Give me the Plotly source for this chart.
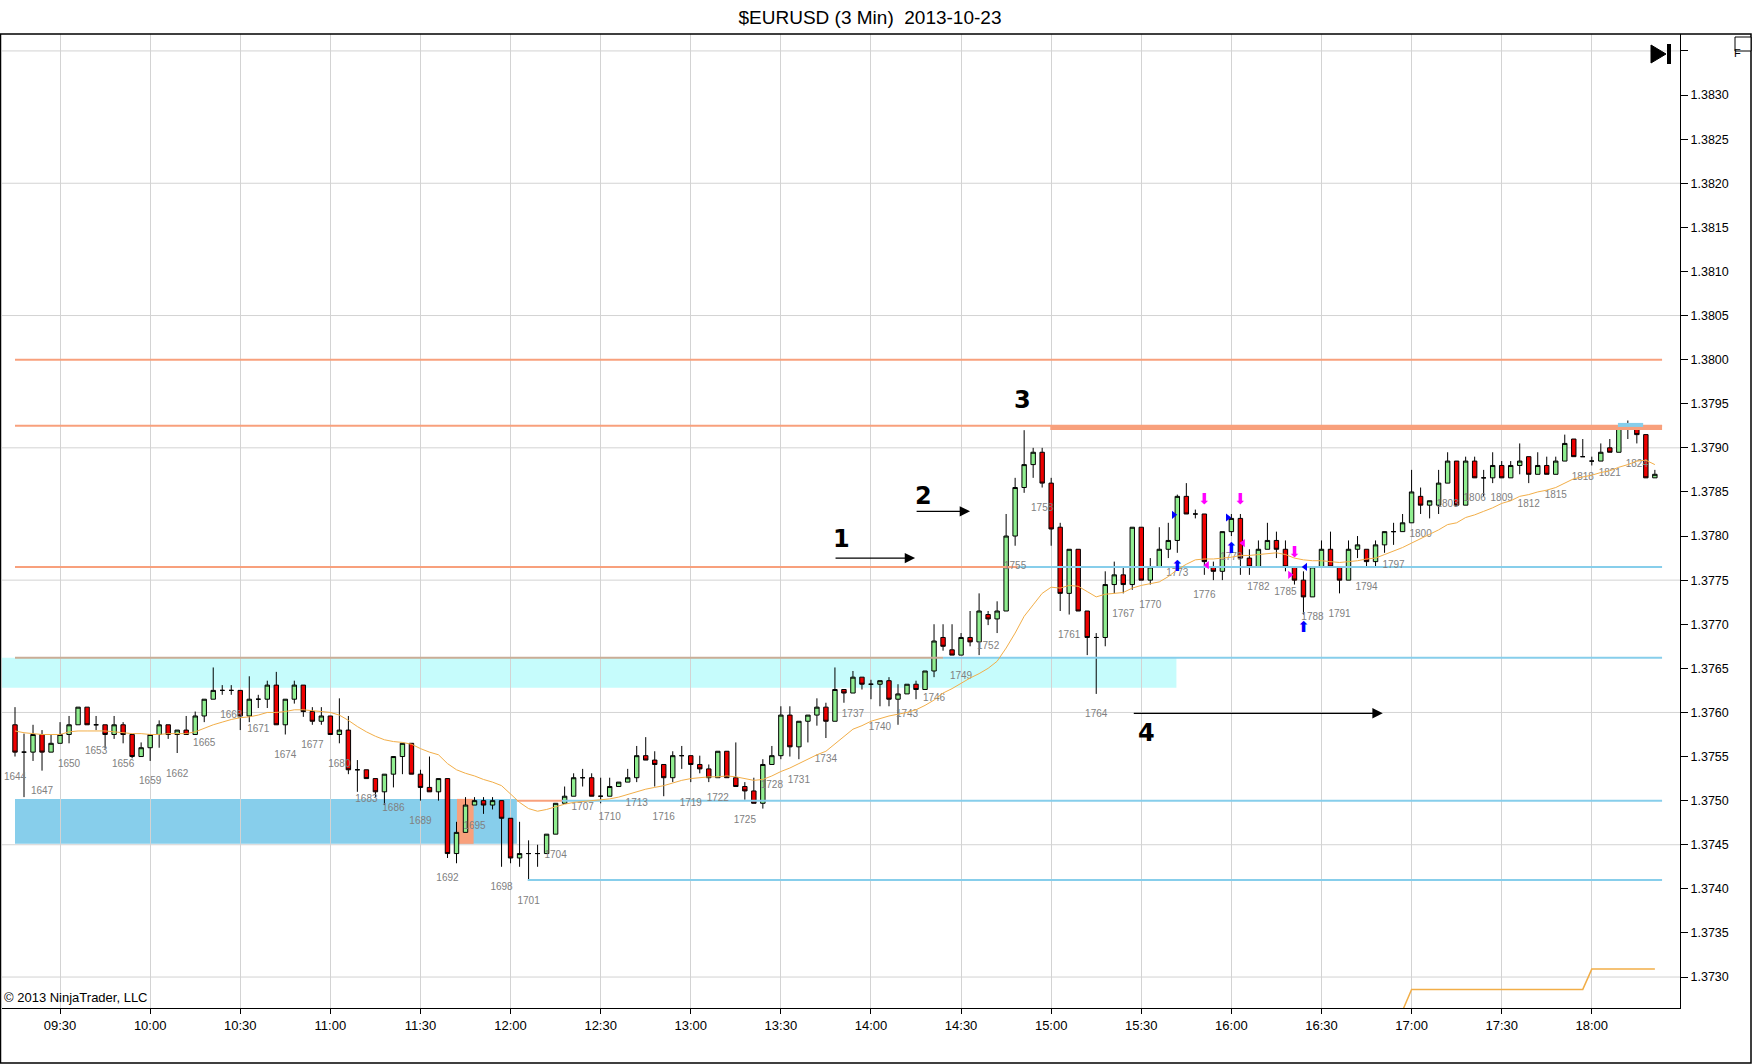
import plotly.graph_objects as go

# $EURUSD 3 min bars, 2013-10-23 (bar 1644 .. 1826)
first_bar = 1644

opens = [
    1.37586, 1.37555, 1.37555, 1.37575, 1.37555, 1.37565, 1.37575, 1.37586, 1.37606, 1.37586,
    1.37586, 1.37575, 1.37586, 1.37575, 1.37550, 1.37560, 1.37575, 1.37586, 1.37575, 1.37580,
    1.37575, 1.37596, 1.37615, 1.37625, 1.37625, 1.37625, 1.37596, 1.37615, 1.37615, 1.37631,
    1.37586, 1.37615, 1.37631, 1.37601, 1.37590, 1.37596, 1.37575, 1.37580, 1.37535, 1.37535,
    1.37525, 1.37510, 1.37530, 1.37550, 1.37565, 1.37530, 1.37515, 1.37510, 1.37525, 1.37440,
    1.37464, 1.37495, 1.37500, 1.37495, 1.37500, 1.37480, 1.37435, 1.37440, 1.37440, 1.37440,
    1.37462, 1.37497, 1.37505, 1.37526, 1.37526, 1.37505, 1.37505, 1.37516, 1.37521, 1.37526,
    1.37551, 1.37546, 1.37541, 1.37526, 1.37551, 1.37551, 1.37541, 1.37536, 1.37526, 1.37556,
    1.37526, 1.37516, 1.37511, 1.37497, 1.37541, 1.37551, 1.37597, 1.37561, 1.37590, 1.37597,
    1.37606, 1.37590, 1.37626, 1.37622, 1.37640, 1.37632, 1.37632, 1.37636, 1.37615, 1.37621,
    1.37632, 1.37626, 1.37647, 1.37685, 1.37671, 1.37665, 1.37685, 1.37680, 1.37711, 1.37706,
    1.37715, 1.37800, 1.37855, 1.37881, 1.37895, 1.37860, 1.37810, 1.37735, 1.37785, 1.37715,
    1.37685, 1.37685, 1.37745, 1.37756, 1.37745, 1.37810, 1.37750, 1.37765, 1.37785, 1.37795,
    1.37845, 1.37825, 1.37825, 1.37765, 1.37760, 1.37805, 1.37820, 1.37775, 1.37765, 1.37785,
    1.37795, 1.37785, 1.37765, 1.37750, 1.37731, 1.37765, 1.37785, 1.37765, 1.37750, 1.37785,
    1.37785, 1.37771, 1.37790, 1.37805, 1.37805, 1.37815, 1.37845, 1.37835, 1.37835, 1.37860,
    1.37885, 1.37835, 1.37885, 1.37866, 1.37866, 1.37880, 1.37866, 1.37880, 1.37890, 1.37870,
    1.37880, 1.37870, 1.37885, 1.37910, 1.37890, 1.37885, 1.37885, 1.37900, 1.37895, 1.37924,
    1.37924, 1.37915, 1.37866,
]
highs = [
    1.37606, 1.37576, 1.37586, 1.37580, 1.37575, 1.37589, 1.37596, 1.37606, 1.37606, 1.37596,
    1.37586, 1.37596, 1.37589, 1.37575, 1.37566, 1.37575, 1.37591, 1.37586, 1.37580, 1.37596,
    1.37601, 1.37615, 1.37651, 1.37631, 1.37631, 1.37625, 1.37641, 1.37620, 1.37636, 1.37646,
    1.37615, 1.37636, 1.37631, 1.37606, 1.37606, 1.37596, 1.37616, 1.37596, 1.37546, 1.37535,
    1.37525, 1.37530, 1.37550, 1.37565, 1.37565, 1.37535, 1.37550, 1.37525, 1.37525, 1.37476,
    1.37504, 1.37504, 1.37504, 1.37504, 1.37500, 1.37480, 1.37476, 1.37455, 1.37450, 1.37462,
    1.37497, 1.37516, 1.37531, 1.37536, 1.37531, 1.37526, 1.37526, 1.37521, 1.37536, 1.37562,
    1.37572, 1.37556, 1.37541, 1.37556, 1.37562, 1.37551, 1.37551, 1.37541, 1.37556, 1.37556,
    1.37566, 1.37521, 1.37526, 1.37547, 1.37562, 1.37607, 1.37607, 1.37590, 1.37597, 1.37616,
    1.37611, 1.37651, 1.37626, 1.37647, 1.37640, 1.37637, 1.37636, 1.37640, 1.37632, 1.37632,
    1.37636, 1.37647, 1.37700, 1.37700, 1.37700, 1.37690, 1.37715, 1.37735, 1.37715, 1.37726,
    1.37825, 1.37866, 1.37920, 1.37900, 1.37900, 1.37866, 1.37815, 1.37785, 1.37785, 1.37715,
    1.37690, 1.37760, 1.37771, 1.37765, 1.37810, 1.37810, 1.37775, 1.37810, 1.37815, 1.37847,
    1.37860, 1.37830, 1.37825, 1.37771, 1.37805, 1.37825, 1.37825, 1.37785, 1.37795, 1.37815,
    1.37805, 1.37795, 1.37765, 1.37760, 1.37765, 1.37795, 1.37805, 1.37765, 1.37795, 1.37800,
    1.37785, 1.37795, 1.37805, 1.37815, 1.37825, 1.37875, 1.37855, 1.37840, 1.37875, 1.37895,
    1.37885, 1.37890, 1.37890, 1.37875, 1.37895, 1.37885, 1.37885, 1.37905, 1.37890, 1.37895,
    1.37890, 1.37890, 1.37915, 1.37910, 1.37910, 1.37890, 1.37905, 1.37910, 1.37924, 1.37931,
    1.37924, 1.37915, 1.37875,
]
lows = [
    1.37550, 1.37504, 1.37545, 1.37534, 1.37555, 1.37565, 1.37565, 1.37586, 1.37586, 1.37580,
    1.37559, 1.37570, 1.37565, 1.37548, 1.37550, 1.37545, 1.37560, 1.37570, 1.37554, 1.37575,
    1.37575, 1.37589, 1.37615, 1.37620, 1.37620, 1.37580, 1.37589, 1.37605, 1.37605, 1.37586,
    1.37575, 1.37610, 1.37595, 1.37586, 1.37586, 1.37575, 1.37565, 1.37530, 1.37510, 1.37525,
    1.37504, 1.37495, 1.37515, 1.37530, 1.37530, 1.37500, 1.37510, 1.37500, 1.37435, 1.37429,
    1.37464, 1.37495, 1.37485, 1.37490, 1.37425, 1.37429, 1.37425, 1.37410, 1.37425, 1.37440,
    1.37462, 1.37497, 1.37505, 1.37516, 1.37505, 1.37497, 1.37505, 1.37516, 1.37521, 1.37521,
    1.37546, 1.37516, 1.37505, 1.37521, 1.37536, 1.37521, 1.37531, 1.37521, 1.37526, 1.37526,
    1.37516, 1.37501, 1.37497, 1.37491, 1.37541, 1.37547, 1.37550, 1.37547, 1.37566, 1.37585,
    1.37571, 1.37590, 1.37611, 1.37622, 1.37626, 1.37615, 1.37607, 1.37607, 1.37586, 1.37621,
    1.37615, 1.37626, 1.37640, 1.37670, 1.37665, 1.37665, 1.37675, 1.37665, 1.37699, 1.37690,
    1.37715, 1.37789, 1.37849, 1.37866, 1.37855, 1.37789, 1.37715, 1.37711, 1.37715, 1.37665,
    1.37621, 1.37675, 1.37735, 1.37735, 1.37739, 1.37750, 1.37745, 1.37765, 1.37775, 1.37781,
    1.37825, 1.37820, 1.37756, 1.37750, 1.37750, 1.37800, 1.37756, 1.37756, 1.37765, 1.37785,
    1.37775, 1.37760, 1.37745, 1.37711, 1.37731, 1.37765, 1.37765, 1.37735, 1.37750, 1.37775,
    1.37765, 1.37765, 1.37781, 1.37790, 1.37805, 1.37815, 1.37825, 1.37820, 1.37825, 1.37860,
    1.37835, 1.37835, 1.37866, 1.37845, 1.37860, 1.37866, 1.37866, 1.37870, 1.37860, 1.37870,
    1.37870, 1.37870, 1.37885, 1.37890, 1.37890, 1.37880, 1.37885, 1.37895, 1.37895, 1.37910,
    1.37905, 1.37866, 1.37866,
]
closes = [
    1.37555, 1.37555, 1.37575, 1.37555, 1.37565, 1.37575, 1.37586, 1.37606, 1.37586, 1.37586,
    1.37575, 1.37586, 1.37575, 1.37550, 1.37560, 1.37575, 1.37586, 1.37575, 1.37580, 1.37575,
    1.37596, 1.37615, 1.37625, 1.37625, 1.37625, 1.37596, 1.37615, 1.37615, 1.37631, 1.37586,
    1.37615, 1.37631, 1.37601, 1.37590, 1.37596, 1.37575, 1.37580, 1.37535, 1.37535, 1.37525,
    1.37510, 1.37530, 1.37550, 1.37565, 1.37530, 1.37515, 1.37510, 1.37525, 1.37440, 1.37464,
    1.37495, 1.37500, 1.37495, 1.37500, 1.37480, 1.37435, 1.37440, 1.37440, 1.37440, 1.37462,
    1.37497, 1.37505, 1.37526, 1.37526, 1.37505, 1.37505, 1.37516, 1.37521, 1.37526, 1.37551,
    1.37546, 1.37541, 1.37526, 1.37551, 1.37551, 1.37541, 1.37536, 1.37526, 1.37556, 1.37526,
    1.37516, 1.37511, 1.37497, 1.37541, 1.37551, 1.37597, 1.37561, 1.37590, 1.37597, 1.37606,
    1.37590, 1.37626, 1.37622, 1.37640, 1.37632, 1.37632, 1.37636, 1.37615, 1.37621, 1.37632,
    1.37626, 1.37647, 1.37681, 1.37675, 1.37665, 1.37685, 1.37680, 1.37715, 1.37706, 1.37715,
    1.37800, 1.37855, 1.37881, 1.37895, 1.37860, 1.37808, 1.37735, 1.37785, 1.37715, 1.37685,
    1.37685, 1.37745, 1.37756, 1.37745, 1.37810, 1.37750, 1.37765, 1.37785, 1.37795, 1.37845,
    1.37825, 1.37825, 1.37771, 1.37760, 1.37805, 1.37820, 1.37775, 1.37765, 1.37785, 1.37795,
    1.37785, 1.37765, 1.37750, 1.37731, 1.37765, 1.37785, 1.37765, 1.37750, 1.37785, 1.37790,
    1.37771, 1.37790, 1.37805, 1.37805, 1.37815, 1.37850, 1.37835, 1.37840, 1.37860, 1.37885,
    1.37835, 1.37885, 1.37866, 1.37866, 1.37880, 1.37866, 1.37880, 1.37885, 1.37870, 1.37880,
    1.37870, 1.37885, 1.37905, 1.37890, 1.37890, 1.37885, 1.37895, 1.37895, 1.37924, 1.37924,
    1.37915, 1.37866, 1.37870,
]
# moving average (orange line), read per bar
sma = [
    1.37579, 1.37577, 1.37576, 1.37575, 1.37575, 1.37575, 1.37578, 1.37579, 1.37579, 1.37579,
    1.37579, 1.37578, 1.37577, 1.37576, 1.37576, 1.37575, 1.37575, 1.37576, 1.37576, 1.37576,
    1.37578, 1.37582, 1.37586, 1.37589, 1.37592, 1.37594, 1.37595, 1.37597, 1.37600, 1.37600,
    1.37601, 1.37603, 1.37603, 1.37602, 1.37601, 1.37600, 1.37597, 1.37591, 1.37584, 1.37578,
    1.37573, 1.37569, 1.37567, 1.37566, 1.37564, 1.37559, 1.37555, 1.37552, 1.37542, 1.37535,
    1.37531, 1.37528, 1.37524, 1.37521, 1.37517, 1.37508, 1.37498, 1.37491, 1.37488, 1.37490,
    1.37493, 1.37496, 1.37498, 1.37499, 1.37500, 1.37501, 1.37502, 1.37504, 1.37507, 1.37510,
    1.37513, 1.37515, 1.37517, 1.37520, 1.37523, 1.37525, 1.37526, 1.37527, 1.37527, 1.37528,
    1.37527, 1.37525, 1.37523, 1.37524, 1.37528, 1.37533, 1.37537, 1.37542, 1.37547, 1.37552,
    1.37556, 1.37564, 1.37573, 1.37581, 1.37585, 1.37590, 1.37593, 1.37596, 1.37598, 1.37600,
    1.37603, 1.37608, 1.37614, 1.37622, 1.37627, 1.37633, 1.37639, 1.37644, 1.37650, 1.37658,
    1.37673, 1.37690, 1.37709, 1.37722, 1.37735, 1.37742, 1.37741, 1.37744, 1.37743, 1.37737,
    1.37731, 1.37734, 1.37735, 1.37736, 1.37741, 1.37744, 1.37746, 1.37748, 1.37754, 1.37762,
    1.37768, 1.37773, 1.37774, 1.37774, 1.37775, 1.37776, 1.37778, 1.37778, 1.37779, 1.37780,
    1.37781, 1.37779, 1.37775, 1.37773, 1.37772, 1.37772, 1.37771, 1.37770, 1.37771, 1.37772,
    1.37774, 1.37775, 1.37779, 1.37783, 1.37787, 1.37792, 1.37797, 1.37802, 1.37807, 1.37813,
    1.37815, 1.37821, 1.37824, 1.37828, 1.37832, 1.37837, 1.37840, 1.37845, 1.37847, 1.37850,
    1.37852, 1.37855, 1.37860, 1.37865, 1.37867, 1.37869, 1.37872, 1.37874, 1.37878, 1.37881,
    1.37885, 1.37886, 1.37881,
]

# second orange line near the bottom (comes in from below the scale)
low_line_bars = [153, 154, 155, 174, 175, 182]
low_line_vals = [1.37220, 1.37262, 1.37286, 1.37286, 1.37309, 1.37309]

# time axis
time_tick_bars = [5, 15, 25, 35, 45, 55, 65, 75, 85, 95, 105, 115, 125, 135, 145, 155, 165, 175]
time_tick_labels = ["09:30", "10:00", "10:30", "11:00", "11:30", "12:00", "12:30", "13:00", "13:30",
                    "14:00", "14:30", "15:00", "15:30", "16:00", "16:30", "17:00", "17:30", "18:00"]

price_ticks = [1.3730, 1.3735, 1.3740, 1.3745, 1.3750, 1.3755, 1.3760, 1.3765, 1.3770, 1.3775,
               1.3780, 1.3785, 1.3790, 1.3795, 1.3800, 1.3805, 1.3810, 1.3815, 1.3820, 1.3825,
               1.3830, 1.3835]
price_tick_labels = ["1.3730", "1.3735", "1.3740", "1.3745", "1.3750", "1.3755", "1.3760", "1.3765",
                     "1.3770", "1.3775", "1.3780", "1.3785", "1.3790", "1.3795", "1.3800", "1.3805",
                     "1.3810", "1.3815", "1.3820", "1.3825", "1.3830", ""]
price_grid = [1.3730, 1.3745, 1.3760, 1.3775, 1.3790, 1.3805, 1.3820, 1.3835]

# horizontal levels drawn on the chart
level_prices = [1.38000, 1.37925, 1.37923, 1.37765, 1.37765, 1.37662, 1.37662, 1.37500, 1.37500, 1.37410, 1.37926]
level_start = [0, 0, 114.9, 0, 111.3, 0, 103.0, 55.7, 60.7, 56.9, 177.9]
level_end = [182.8, 182.8, 182.8, 111.3, 182.8, 103.0, 182.8, 60.7, 182.8, 182.8, 180.7]
level_kind = ["old", "old", "old_thick", "old", "new", "old_tan", "new", "old", "new", "new", "new_thick"]

# zones
zone_low = [1.37628, 1.37451, 1.37451]
zone_high = [1.37662, 1.37502, 1.37502]
zone_start = [-1.6, 0, 49.05]
zone_end = [128.9, 55.7, 50.9]
zone_kind = ["cyan", "blue", "salmon"]

# strategy signal arrows
buy_bars = [129, 135, 143]
buy_prices = [1.37765, 1.37785, 1.37695]
sell_bars = [132, 136, 142]
sell_prices = [1.37841, 1.37841, 1.37781]
entry_bars = [128.6, 134.6, 143.2, 132.3, 136.3, 141.5]
entry_prices = [1.37824, 1.37821, 1.37765, 1.37767, 1.37792, 1.37756]
entry_kind = ["buy_r", "buy_r", "buy_l", "sell_l", "sell_l", "sell_r"]

# hand-drawn notes: label text, label position, arrow tail/head
note_text = ["1", "2", "3", "4"]
note_bar = [91.7, 100.8, 111.8, 125.6]
note_price = [1.37797, 1.37845, 1.37954, 1.37577]
arrow_tail = [90.9, 99.9, 124.0]
arrow_head = [99.9, 106.0, 151.8]
arrow_price = [1.37775, 1.37828, 1.37599]

FONT = "Liberation Sans"
ORANGE = "#F8A07C"
SKY = "#87CEEB"
line_style = {
    "old": (ORANGE, 2), "old_thick": (ORANGE, 5), "old_tan": ("#C9AD96", 2),
    "new": (SKY, 2), "new_thick": (SKY, 4),
}
zone_color = {"cyan": "#C6FCFC", "blue": SKY, "salmon": ORANGE}

bars = list(range(len(opens)))
px_per_price = 88200.0  # vertical scale of the chart
label_drop = 21 / px_per_price

fig = go.Figure()

for lvl, x0, x1, kind in zip(level_prices, level_start, level_end, level_kind):
    col, w = line_style[kind]
    fig.add_trace(go.Scatter(x=[x0, x1], y=[lvl, lvl], mode="lines",
                             line=dict(color=col, width=w), hoverinfo="skip"))

lab_bars = [b for b in bars if b % 3 == 0]
fig.add_trace(go.Scatter(
    x=lab_bars, y=[lows[b] - label_drop for b in lab_bars],
    text=[str(first_bar + b) for b in lab_bars], mode="text",
    textfont=dict(family=FONT, size=10, color="#808080"), hoverinfo="skip"))

fig.add_trace(go.Candlestick(
    x=bars, open=opens, high=highs, low=lows, close=closes,
    increasing=dict(fillcolor="#90EE90", line=dict(color="black", width=1)),
    decreasing=dict(fillcolor="#EE0000", line=dict(color="black", width=1)),
    whiskerwidth=0, name="$EURUSD"))

fig.add_trace(go.Scatter(x=bars, y=sma, mode="lines",
                         line=dict(color="#F2AE48", width=1), hoverinfo="skip"))
fig.add_trace(go.Scatter(x=low_line_bars, y=low_line_vals, mode="lines",
                         line=dict(color="#F2AE48", width=1.5), hoverinfo="skip"))

fig.add_trace(go.Scatter(x=buy_bars, y=buy_prices, mode="text", text=["⬆"] * len(buy_bars),
                         textfont=dict(family="DejaVu Sans", size=15, color="#0000FF"), hoverinfo="skip"))
fig.add_trace(go.Scatter(x=sell_bars, y=sell_prices, mode="text", text=["⬇"] * len(sell_bars),
                         textfont=dict(family="DejaVu Sans", size=15, color="#FF00FF"), hoverinfo="skip"))
tri_sym = {"buy_r": "triangle-right", "buy_l": "triangle-left", "sell_l": "triangle-left", "sell_r": "triangle-right"}
tri_col = {"buy_r": "#0000FF", "buy_l": "#0000FF", "sell_l": "#FF00FF", "sell_r": "#FF00FF"}
fig.add_trace(go.Scatter(
    x=entry_bars, y=entry_prices, mode="markers",
    marker=dict(symbol=[tri_sym[k] for k in entry_kind], color=[tri_col[k] for k in entry_kind],
                size=7, line=dict(width=0)), hoverinfo="skip"))

shapes = []
for g in price_grid:
    shapes.append(dict(type="line", xref="paper", yref="y", x0=0, x1=1, y0=g, y1=g,
                       line=dict(color="#D3D3D3", width=1), layer="below"))
for lo, hi, x0, x1, kind in zip(zone_low, zone_high, zone_start, zone_end, zone_kind):
    shapes.append(dict(type="rect", xref="x", yref="y", x0=x0, x1=x1, y0=lo, y1=hi,
                       fillcolor=zone_color[kind], line=dict(width=0), layer="below"))


def px(xp, yp):
    # window pixel -> paper coords (plot area is x 2..1680, y 34..1008)
    return (xp - 2) / 1678.0, (1008 - yp) / 974.0


# outer frame
fx0, fy0 = px(0.5, 34)
fx1, fy1 = px(1751, 1063)
shapes.append(dict(type="rect", xref="paper", yref="paper", x0=fx0, x1=fx1, y0=fy1, y1=fy0,
                   line=dict(color="black", width=1.5)))
# "go to end" button
a = px(1651, 45); b = px(1651, 63); c = px(1666, 54)
shapes.append(dict(type="path", xref="paper", yref="paper",
                   path=f"M{a[0]},{a[1]} L{b[0]},{b[1]} L{c[0]},{c[1]} Z",
                   fillcolor="black", line=dict(color="black", width=1)))
r0 = px(1667, 44); r1 = px(1671, 64)
shapes.append(dict(type="rect", xref="paper", yref="paper", x0=r0[0], x1=r1[0], y0=r1[1], y1=r0[1],
                   fillcolor="black", line=dict(width=0)))
f0 = px(1735, 37); f1 = px(1751, 51)
shapes.append(dict(type="rect", xref="paper", yref="paper", x0=f0[0], x1=f1[0], y0=f1[1], y1=f0[1],
                   fillcolor="white", line=dict(color="black", width=1)))

annotations = []
fc = px(1743, 44.5)
annotations.append(dict(text="F", x=fc[0], y=fc[1], xref="paper", yref="paper", showarrow=False,
                        font=dict(family=FONT, size=11, color="black")))
annotations.append(dict(text="© 2013 NinjaTrader, LLC", x=0, y=0, xref="paper", yref="paper",
                        xanchor="left", yanchor="bottom", showarrow=False, yshift=1,
                        font=dict(family=FONT, size=13, color="black")))
for t, xb, yp in zip(note_text, note_bar, note_price):
    annotations.append(dict(text=f"<b>{t}</b>", x=xb, y=yp, xref="x", yref="y", showarrow=False,
                            font=dict(family="DejaVu Sans", size=24, color="black")))
for x0, x1, yp in zip(arrow_tail, arrow_head, arrow_price):
    annotations.append(dict(text="", x=x1, y=yp, ax=x0, ay=yp, xref="x", yref="y",
                            axref="x", ayref="y", showarrow=True, arrowhead=2,
                            arrowsize=1.6, arrowwidth=1.3, arrowcolor="black", standoff=0))

fig.update_layout(
    width=1752, height=1064, autosize=False,
    margin=dict(l=2, r=72, t=34, b=56),
    paper_bgcolor="white", plot_bgcolor="white",
    showlegend=False, hovermode="closest",
    boxgap=0.3,
    title=dict(text="$EURUSD (3 Min)\u00a0 2013-10-23", x=870 / 1752, xref="container",
               y=1 - 17 / 1064, yref="container", xanchor="center", yanchor="middle",
               font=dict(family=FONT, size=19, color="black")),
    xaxis=dict(range=[-1.443, 184.79], tickmode="array", tickvals=time_tick_bars,
               ticktext=time_tick_labels, showgrid=True, gridcolor="#D3D3D3", gridwidth=1,
               ticks="outside", ticklen=5, tickcolor="black", showline=True, linecolor="black",
               linewidth=1, zeroline=False, rangeslider=dict(visible=False),
               tickfont=dict(family=FONT, size=13, color="black")),
    yaxis=dict(range=[1.372649, 1.383692], side="right", tickmode="array", tickvals=price_ticks,
               ticktext=price_tick_labels, showgrid=False, ticks="outside", ticklen=7,
               tickcolor="black", showline=True, linecolor="black", linewidth=1, zeroline=False,
               tickfont=dict(family=FONT, size=12.5, color="black")),
    shapes=shapes,
    annotations=annotations,
)

# the page's default body margin would shift the figure by 8px
fig.write_html("out.html", config={"displayModeBar": False},
               post_script="document.body.style.margin='0';document.body.style.overflow='hidden';")
